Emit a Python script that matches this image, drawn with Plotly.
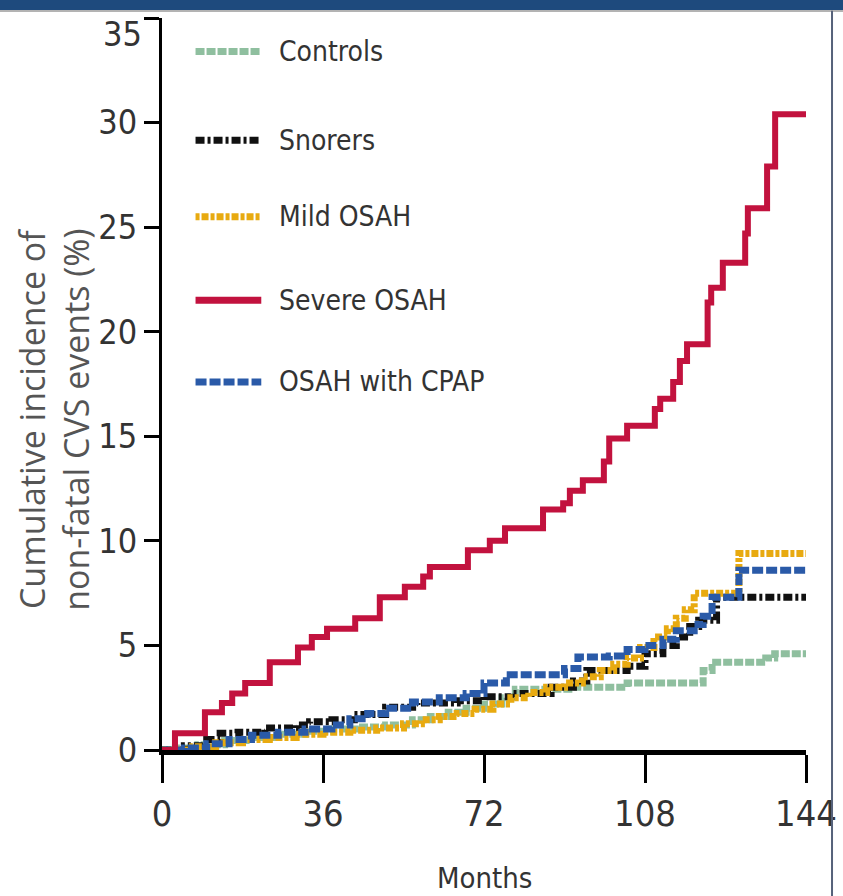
import plotly.graph_objects as go

# Kaplan-Meier style cumulative incidence (%) by group; each list gives the
# month at which a step starts and the level reached there.
months_controls = [0, 3, 8, 14, 20, 26, 32, 38, 44, 50, 56, 60, 64, 68, 72, 76, 79, 92, 104, 121, 123, 135, 137, 144.3]
controls = [0, 0.1, 0.25, 0.45, 0.6, 0.75, 0.9, 1.0, 1.1, 1.2, 1.45, 1.6, 1.8, 2.0, 2.2, 2.5, 2.9, 3.0, 3.2, 3.8, 4.2, 4.4, 4.6, 4.6]

months_snorers = [0, 5, 10, 13, 17, 23, 30, 33, 38, 43, 50, 57, 66, 72, 78, 87, 92, 95, 104, 108, 112, 115, 118, 120, 124, 144.3]
snorers = [0, 0.2, 0.5, 0.8, 0.85, 1.05, 1.2, 1.35, 1.45, 1.7, 2.05, 2.25, 2.35, 2.55, 2.7, 3.0, 3.3, 3.8, 4.0, 4.6, 5.0, 5.4, 5.9, 6.2, 7.3, 7.3]

months_mild = [0, 6, 12, 18, 24, 30, 36, 42, 48, 54, 58, 62, 66, 70, 74, 78, 82, 86, 90, 94, 98, 101, 104, 107, 110, 113, 115, 117, 119, 129, 144.3]
mild_osah = [0, 0.15, 0.35, 0.5, 0.6, 0.75, 0.85, 0.95, 1.05, 1.25, 1.45, 1.6, 1.75, 1.95, 2.2, 2.5, 2.75, 3.0, 3.2, 3.5, 3.8, 4.1, 4.4, 4.9, 5.4, 5.8, 6.3, 6.7, 7.5, 9.4, 9.4]

months_severe = [0, 2.9, 9.6, 13.4, 15.7, 18.6, 24.1, 30.4, 33.5, 36.9, 43.2, 48.7, 54.3, 58.4, 59.9, 68.4, 73.3, 76.7, 85.2, 89.7, 91.2, 94.1, 98.8, 100.0, 104.0, 110.2, 111.4, 114.3, 115.8, 117.4, 122.0, 122.8, 125.4, 130.4, 131.0, 135.3, 137.1, 144.4]
severe_osah = [0, 0.8, 1.8, 2.25, 2.7, 3.2, 4.2, 4.9, 5.4, 5.8, 6.3, 7.3, 7.8, 8.3, 8.75, 9.55, 10.0, 10.6, 11.5, 11.8, 12.4, 12.9, 13.8, 14.9, 15.5, 16.3, 16.8, 17.6, 18.6, 19.4, 21.4, 22.1, 23.3, 24.7, 25.9, 27.9, 30.4, 30.4]

months_cpap = [0, 5, 10, 15, 20, 26, 32, 38, 42, 46, 50, 56, 62, 68, 72, 77, 90, 93, 100, 104, 108, 112, 115, 119, 121, 123, 129, 144.3]
osah_cpap = [0, 0.1, 0.3, 0.5, 0.7, 0.85, 1.0, 1.2, 1.5, 1.75, 2.0, 2.3, 2.5, 2.7, 3.2, 3.6, 3.9, 4.45, 4.5, 4.8, 5.0, 5.3, 5.7, 6.0, 6.4, 7.3, 8.6, 8.6]

x_ticks = [0, 36, 72, 108, 144]
y_ticks = [0, 5, 10, 15, 20, 25, 30, 35]

NARROW = "DejaVu Sans Condensed, Liberation Sans Narrow, Arial Narrow, sans-serif"

groups = [
    ("Controls", months_controls, controls, "#8fbf9f", "9px,2px", 7),
    ("Snorers", months_snorers, snorers, "#111111", "9px,3px,3px,3px", 7),
    ("Mild OSAH", months_mild, mild_osah, "#e8aa10", "4px,2px,7px,2px", 7),
    ("OSAH with CPAP", months_cpap, osah_cpap, "#2a5aa8", "11px,3px", 7),
    ("Severe OSAH", months_severe, severe_osah, "#c2123e", "solid", 6),
]

fig = go.Figure()
for name, mx, vals, color, dash, width in groups:
    fig.add_trace(go.Scatter(
        x=mx, y=vals, mode="lines", name=name,
        line=dict(color=color, width=width, dash=dash, shape="hv"),
        showlegend=False, hoverinfo="skip",
    ))

# Hand-built legend: sample line + label per group
legend_order = ["Controls", "Snorers", "Mild OSAH", "Severe OSAH", "OSAH with CPAP"]
legend_levels = [33.4, 29.15, 25.5, 21.5, 17.6]
style = {g[0]: g for g in groups}
shapes = []
annotations = []
for name, lvl in zip(legend_order, legend_levels):
    _, _, _, color, dash, width = style[name]
    shapes.append(dict(type="line", xref="x", yref="y", x0=7.5, x1=22.2, y0=lvl, y1=lvl,
                       line=dict(color=color, width=7, dash=dash)))
    annotations.append(dict(x=25.7, y=lvl, xref="x", yref="y", text=name, showarrow=False,
                            xanchor="left", yanchor="middle",
                            font=dict(family=NARROW, size=28, color="#333333")))

# Top tick label drawn separately so it sits just below the header band
annotations.append(dict(
    xref="paper", yref="y", x=0, y=y_ticks[-1], xshift=-18, yshift=6,
    text=str(y_ticks[-1]), showarrow=False, xanchor="right", yanchor="top",
    font=dict(family=NARROW, size=34, color="#333333"),
))

# Rotated two-line y-axis title
annotations.append(dict(
    xref="paper", yref="paper", x=0, y=0.451, xshift=-108,
    text="Cumulative incidence of<br>non-fatal CVS events (%)",
    textangle=-90, showarrow=False, xanchor="center", yanchor="middle",
    font=dict(family="Open Sans, sans-serif", size=34, color="#555555"),
))
annotations.append(dict(
    xref="paper", yref="paper", x=0.5, y=0, yshift=-128, text="Months",
    showarrow=False, xanchor="center", yanchor="middle",
    font=dict(family=NARROW, size=29, color="#333333"),
))

# Frame: dark band across the top and a thin rule on the right
shapes.append(dict(type="rect", xref="paper", yref="paper", x0=-0.26, x1=1.06,
                   y0=1.0109, y1=1.03, fillcolor="#1e4a7d", line=dict(width=0), layer="above"))
shapes.append(dict(type="line", xref="paper", yref="paper", x0=-0.26, x1=1.06,
                   y0=1.0095, y1=1.0095, line=dict(color="#9a9a9a", width=1.5)))
shapes.append(dict(type="line", xref="paper", yref="paper", x0=1.0404, x1=1.0404,
                   y0=-0.2, y1=1.01, line=dict(color="#56627a", width=2)))

fig.update_layout(
    width=843, height=896,
    margin=dict(l=162, r=37, t=18, b=146, autoexpand=False),
    paper_bgcolor="white", plot_bgcolor="white",
    shapes=shapes, annotations=annotations,
    xaxis=dict(range=[0, 144], tickvals=[0, 36, 72, 108, 143.999],
               ticktext=[str(v) for v in x_ticks],
               showline=True, linecolor="black", linewidth=5,
               ticks="outside", ticklen=28, tickwidth=3, tickcolor="black",
               showgrid=False, zeroline=False, ticklabeloverflow="allow",
               automargin=False,
               tickfont=dict(family=NARROW, size=36, color="#333333")),
    yaxis=dict(range=[0, 35], tickvals=y_ticks[:-1] + [34.999],
               ticktext=[str(v) for v in y_ticks[:-1]] + [""],
               showline=True, linecolor="black", linewidth=3,
               ticks="outside", ticklen=15, tickwidth=3, tickcolor="black",
               showgrid=False, zeroline=False, ticklabeloverflow="allow",
               automargin=False,
               tickfont=dict(family=NARROW, size=34, color="#333333")),
)

fig.write_html("out.html")
